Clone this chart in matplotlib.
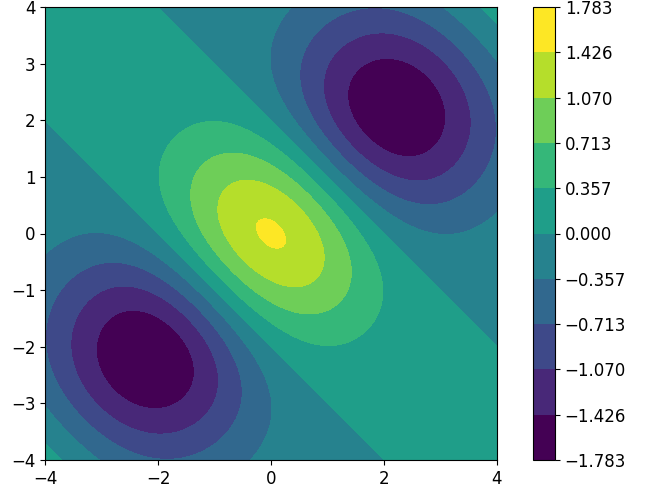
import numpy as np
import matplotlib.pyplot as plt
from matplotlib.ticker import FuncFormatter

plt.rcParams['font.size'] = 12

# axis range and ticks
x_lim = [-4, 4]
y_lim = [-4, 4]
x_ticks = [-4, -2, 0, 2, 4]
y_ticks = [-4, -3, -2, -1, 0, 1, 2, 3, 4]

# field, in s = x + y (across) and v = x - y (along)
peak_value = 1.46          # value at the origin
zero_lines = [2.0, 7.7]    # |x + y| where the field changes sign
s_width = 25.8             # fall-off across the diagonal
v_width = 8.2              # fall-off along the diagonal

# contour levels / colorbar
z_limit = 1.783
n_levels = 11

x = np.linspace(x_lim[0], x_lim[1], 400)
y = np.linspace(y_lim[0], y_lim[1], 400)
X, Y = np.meshgrid(x, y)
S = X + Y
V = X - Y
Z = peak_value * np.exp(-S**2 / s_width - V**2 / v_width)
for r in zero_lines:
    Z = Z * (1 - S**2 / r**2)

levels = np.linspace(-z_limit, z_limit, n_levels)
# one viridis colour per band, darkest to brightest
band_colors = plt.get_cmap('viridis')(np.linspace(0, 1, n_levels - 1))

fig = plt.figure(figsize=(6.47, 4.95), dpi=100)
ax = fig.add_axes([45 / 647, 35 / 495, 452 / 647, 453 / 495])
cax = fig.add_axes([533 / 647, 35 / 495, 22 / 647, 453 / 495])

cs = ax.contourf(X, Y, Z, levels=levels, colors=band_colors)
ax.set_xlim(x_lim)
ax.set_ylim(y_lim)
ax.set_xticks(x_ticks)
ax.set_yticks(y_ticks)

cbar = fig.colorbar(cs, cax=cax)
cbar.set_ticks(levels)
cbar.ax.yaxis.set_major_formatter(
    FuncFormatter(lambda val, pos: ('%.3f' % val).replace('-', '\u2212')))

fig.savefig('out.png')
